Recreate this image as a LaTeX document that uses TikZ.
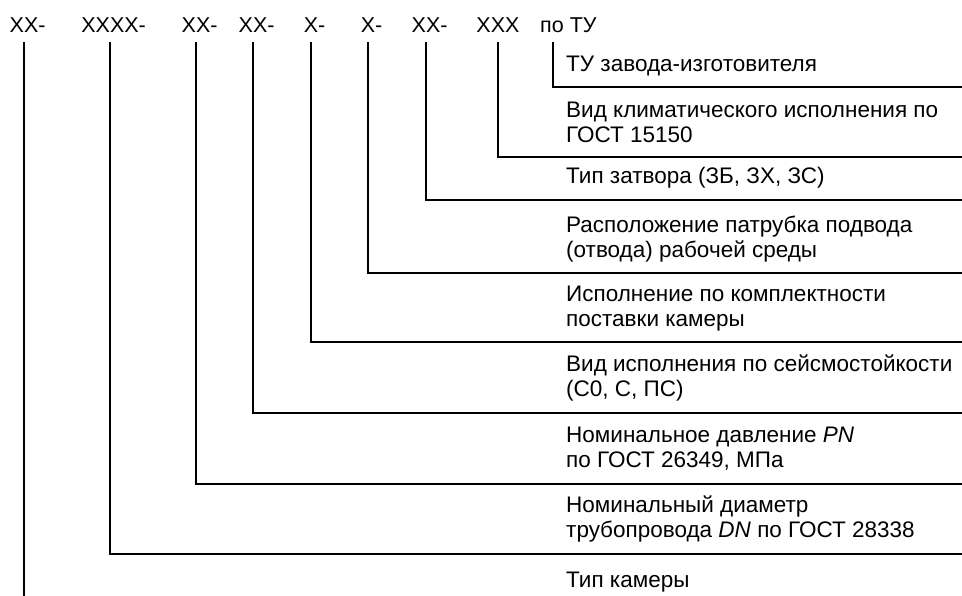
\documentclass[tikz,border=0pt]{standalone}
\usepackage{fontspec}
\setmainfont{Liberation Sans}
\usepackage{tikz}

\begin{document}
\begin{tikzpicture}[
    x=1pt,y=-1pt,
    every node/.style={inner sep=0pt,font=\fontsize{21.5}{25}\selectfont},
    code/.style={anchor=base,text depth=0pt},
    desc/.style={anchor=south west,align=left,text depth=0pt,font=\fontsize{22.5}{25}\selectfont},
    lead/.style={line width=1.1pt}
]
\useasboundingbox (0,0) rectangle (962,596);

% designation
\node[code] (c1) at (24,33) {XX\rlap{-}};
\node[code] (c2) at (110,33) {XXXX\rlap{-}};
\node[code] (c3) at (196,33) {XX\rlap{-}};
\node[code] (c4) at (253,33) {XX\rlap{-}};
\node[code] (c5) at (311,33) {X\rlap{-}};
\node[code] (c6) at (368,33) {X\rlap{-}};
\node[code] (c7) at (426,33) {XX\rlap{-}};
\node[code] (c8) at (498,33) {XXX};
\node[code,anchor=base west] (c9) at (540,33) {по ТУ};

% right ends of the leaders
\coordinate (e1) at (23,596);
\coordinate (e2) at (962,554);
\coordinate (e3) at (962,484);
\coordinate (e4) at (962,413);
\coordinate (e5) at (962,342);
\coordinate (e6) at (962,273);
\coordinate (e7) at (962,200);
\coordinate (e8) at (962,157);
\coordinate (e9) at (962,87);

% explanations
\node[desc] (d9) at (566,72) {ТУ завода-изготовителя};
\node[desc] (d8) at (566,143) {Вид климатического исполнения по\\ГОСТ 15150};
\node[desc] (d7) at (566,184) {Тип затвора (ЗБ, ЗХ, ЗС)};
\node[desc] (d6) at (566,258) {Расположение патрубка подвода\\(отвода) рабочей среды};
\node[desc] (d5) at (566,327) {Исполнение по комплектности\\поставки камеры};
\node[desc] (d4) at (566,397) {Вид исполнения по сейсмостойкости\\(С0, С, ПС)};
\node[desc] (d3) at (566,468) {Номинальное давление \textit{PN}\\по ГОСТ 26349, МПа};
\node[desc] (d2) at (566,538) {Номинальный диаметр\\трубопровода \textit{DN} по ГОСТ 28338};
\node[desc] (d1) at (566,588) {Тип камеры};

% leaders
\draw[lead] ([yshift=-9pt]c1.south) -- (c1.south |- e1);
\foreach \i in {2,...,8}
    \draw[lead] ([yshift=-9pt]c\i.south) |- (e\i);
\draw[lead] ([xshift=13pt,yshift=-9pt]c9.south west) |- (e9);
\end{tikzpicture}
\end{document}
